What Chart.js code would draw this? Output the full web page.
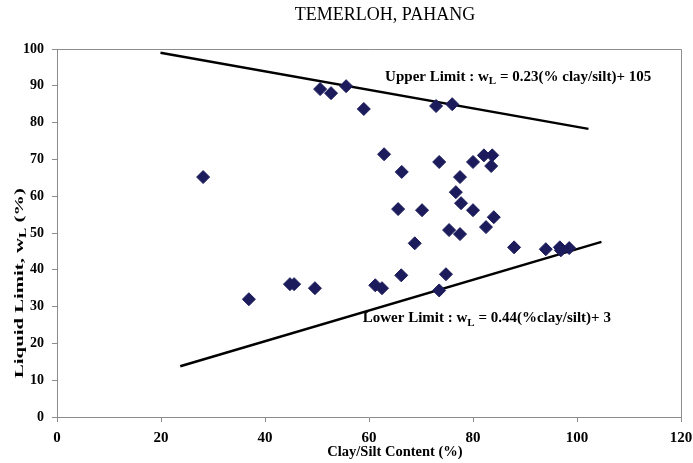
<!DOCTYPE html>
<html>
<head>
<meta charset="utf-8">
<script src="https://cdn.jsdelivr.net/npm/chart.js@4/dist/chart.umd.min.js"></script>
<style>
  html, body { margin: 0; padding: 0; background: #fff; }
  #wrap { width: 693px; height: 463px; position: relative; }
</style>
</head>
<body>
<div id="wrap"><canvas id="c" width="693" height="463"></canvas></div>
<script>
// ---- data ----
const clayContent = [28.1, 36.9, 44.8, 45.6, 49.6, 50.6, 52.7, 55.6, 59.0, 61.2, 62.5, 62.9, 65.6, 66.3, 66.2, 68.8, 70.2, 72.9, 73.5, 73.5, 74.8, 75.4, 76.0, 76.7, 77.5, 77.7, 77.5, 80.0, 80.0, 82.1, 82.5, 83.7, 83.5, 84.0, 87.9, 94.0, 96.7, 96.9, 98.5];
const liquidLimit = [65.2, 32.0, 36.1, 36.1, 35.0, 89.1, 88.0, 89.9, 83.7, 35.8, 35.0, 71.4, 56.5, 66.6, 38.5, 47.2, 56.2, 84.5, 69.3, 34.4, 38.8, 50.8, 85.0, 61.1, 65.2, 58.1, 49.7, 69.3, 56.2, 71.1, 51.6, 71.1, 68.2, 54.3, 46.1, 45.6, 46.1, 45.3, 45.9];
const upperLineX = [19.9, 102.2];
const upperLineY = [99.0, 78.3];
const lowerLineX = [23.7, 104.7];
const lowerLineY = [13.8, 47.6];
const xTicks = [0, 20, 40, 60, 80, 100, 120];
const yTicks = [0, 10, 20, 30, 40, 50, 60, 70, 80, 90, 100];
const chartTitle = 'TEMERLOH, PAHANG';
const xTitle = 'Clay/Silt Content (%)';
const yTitleParts = ['Liquid Limit, w', 'L', ' (%)'];
const upperLabel = ['Upper Limit : w', 'L', ' = 0.23(% clay/silt)+ 105'];
const lowerLabel = ['Lower Limit : w', 'L', ' = 0.44(%clay/silt)+ 3'];
const upperLabelPos = [63.1, 92.7];
const lowerLabelPos = [58.8, 27.1];

const pts = clayContent.map((x, i) => ({x: x, y: liquidLimit[i]}));
const upPts = upperLineX.map((x, i) => ({x: x, y: upperLineY[i]}));
const loPts = lowerLineX.map((x, i) => ({x: x, y: lowerLineY[i]}));

const SERIF = '"Liberation Serif", "DejaVu Serif", serif';
const AXIS_GRAY = '#8c8c8c';

function drawSubText(ctx, parts, x, y, size) {
  ctx.textBaseline = 'alphabetic';
  ctx.textAlign = 'left';
  let cx = x;
  ctx.font = 'bold ' + size + 'px ' + SERIF;
  ctx.fillText(parts[0], cx, y);
  cx += ctx.measureText(parts[0]).width;
  ctx.font = 'bold ' + Math.round(size * 0.72) + 'px ' + SERIF;
  ctx.fillText(parts[1], cx, y + size * 0.22);
  cx += ctx.measureText(parts[1]).width;
  ctx.font = 'bold ' + size + 'px ' + SERIF;
  ctx.fillText(parts[2], cx, y);
}
function measureSub(ctx, parts, size) {
  ctx.font = 'bold ' + size + 'px ' + SERIF;
  let w = ctx.measureText(parts[0]).width + ctx.measureText(parts[2]).width;
  ctx.font = 'bold ' + Math.round(size * 0.72) + 'px ' + SERIF;
  w += ctx.measureText(parts[1]).width;
  return w;
}

const decor = {
  id: 'decor',
  afterDraw(chart) {
    const ctx = chart.ctx;
    const a = chart.chartArea;
    const xs = chart.scales.x, ys = chart.scales.y;
    ctx.save();
    // frame top & right
    ctx.strokeStyle = AXIS_GRAY;
    ctx.lineWidth = 1;
    ctx.beginPath();
    ctx.moveTo(a.left, a.top + 0.5);
    ctx.lineTo(a.right + 0.5, a.top + 0.5);
    ctx.lineTo(a.right + 0.5, a.bottom);
    ctx.stroke();

    ctx.fillStyle = '#000';
    // title
    ctx.font = '18px ' + SERIF;
    ctx.textAlign = 'center';
    ctx.textBaseline = 'middle';
    ctx.fillText(chartTitle, 385, 15);
    // x title
    ctx.font = 'bold 14.5px ' + SERIF;
    ctx.fillText(xTitle, 395, 452);
    // y title rotated, stretched to reference length
    ctx.save();
    ctx.translate(18, 283);
    ctx.rotate(-Math.PI / 2);
    const w = measureSub(ctx, yTitleParts, 13.5);
    const k = 190 / w;
    ctx.scale(k, 1);
    drawSubText(ctx, yTitleParts, -w / 2, 5, 13.5);
    ctx.restore();
    // annotations
    drawSubText(ctx, upperLabel, xs.getPixelForValue(upperLabelPos[0]), ys.getPixelForValue(upperLabelPos[1]) + 5, 15);
    drawSubText(ctx, lowerLabel, xs.getPixelForValue(lowerLabelPos[0]), ys.getPixelForValue(lowerLabelPos[1]) + 5, 15);
    ctx.restore();
  }
};

new Chart(document.getElementById('c'), {
  type: 'scatter',
  data: {
    datasets: [
      {
        label: 'Samples',
        data: pts,
        pointStyle: 'rectRot',
        pointRadius: 6.5,
        pointHoverRadius: 6.5,
        backgroundColor: '#1c1c5c',
        borderColor: '#1c1c5c',
        borderWidth: 1,
        order: 1
      },
      {
        label: 'Upper',
        data: upPts,
        showLine: true,
        pointRadius: 0,
        borderColor: '#000',
        borderWidth: 2.5,
        order: 2
      },
      {
        label: 'Lower',
        data: loPts,
        showLine: true,
        pointRadius: 0,
        borderColor: '#000',
        borderWidth: 2.5,
        order: 2
      }
    ]
  },
  options: {
    responsive: false,
    animation: false,
    events: [],
    layout: { padding: { top: 49, right: 12, left: 0, bottom: 0 } },
    plugins: {
      legend: { display: false },
      title: { display: false },
      tooltip: { enabled: false }
    },
    scales: {
      x: {
        type: 'linear',
        min: 0, max: 120,
        afterFit(s) { s.height = 46; s.paddingLeft = 0; s.paddingRight = 0; },
        afterBuildTicks(s) { s.ticks = xTicks.map(v => ({value: v})); },
        grid: { drawOnChartArea: false, drawTicks: true, tickLength: 5, color: AXIS_GRAY },
        border: { display: true, color: AXIS_GRAY, width: 1 },
        ticks: { color: '#000', font: { family: SERIF, size: 15, weight: 'bold' }, padding: 7, maxRotation: 0 }
      },
      y: {
        type: 'linear',
        min: 0, max: 100,
        afterFit(s) { s.width = 57; s.paddingTop = 0; s.paddingBottom = 0; },
        afterBuildTicks(s) { s.ticks = yTicks.map(v => ({value: v})); },
        grid: { drawOnChartArea: false, drawTicks: true, tickLength: 5, color: AXIS_GRAY },
        border: { display: true, color: AXIS_GRAY, width: 1 },
        ticks: { color: '#000', font: { family: SERIF, size: 14, weight: 'bold' }, padding: 8 }
      }
    }
  },
  plugins: [decor]
});
</script>
</body>
</html>
